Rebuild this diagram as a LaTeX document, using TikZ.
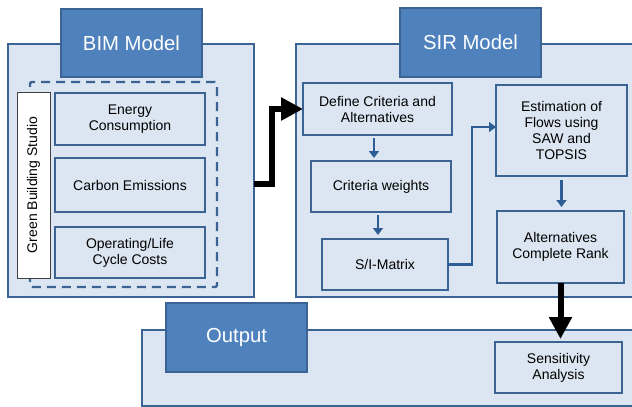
\documentclass[tikz,border=0pt]{standalone}
\usepackage{fontspec}
\setmainfont{Liberation Sans}
\usetikzlibrary{arrows.meta,calc}
\definecolor{panelfill}{HTML}{DCE6F2}
\definecolor{panelline}{HTML}{3B6494}
\definecolor{headfill}{HTML}{4F81BD}
\definecolor{arrowblue}{HTML}{2E5D95}
\begin{document}
\begin{tikzpicture}[x=1pt,y=-1pt,
  panel/.style={draw=panelline,fill=panelfill,line width=2pt,inner sep=0pt,outer sep=0pt},
  header/.style={draw=panelline,fill=headfill,line width=2pt,inner sep=0pt,outer sep=0pt,text=white,font=\fontsize{20.3}{24}\selectfont},
  item/.style={draw=panelline,fill=panelfill,line width=2.4pt,inner sep=0pt,outer sep=0pt,align=center,font=\fontsize{14}{16}\selectfont},
  barrow/.style={draw=arrowblue,line width=2.6pt,-{Triangle[width=10pt,length=7pt]}},
  karrow/.style={draw=black,line width=6pt,-{Triangle[width=22pt,length=22pt]}}
]
\useasboundingbox (0,0) rectangle (632,407);
\fill[white] (0,0) rectangle (632,407);

% BIM panel
\node[panel,minimum width=246pt,minimum height=253pt] (bim) at (131,170.5) {};
\node[header,minimum width=141pt,minimum height=68pt] (bimh) at (131.5,43) {BIM Model};
\node[draw=panelline,dash pattern=on 9pt off 6pt,line width=2.4pt,rounded corners=2pt,minimum width=187pt,minimum height=205pt,inner sep=0pt,outer sep=0pt] (dash) at (123.5,184.5) {};
\node[draw=black!75,fill=white,line width=1pt,minimum width=33pt,minimum height=186pt,inner sep=0pt,outer sep=0pt] (gbs) at (33.5,185) {};
\node[rotate=90,font=\fontsize{14}{16}\selectfont] (gbst) at (gbs.center) {Green Building Studio};
\node[item,minimum width=150pt,minimum height=52pt] (energy) at (130,119) {Energy\\Consumption};
\node[item,minimum width=150pt,minimum height=54pt] (carbon) at (130,185) {Carbon Emissions};
\node[item,minimum width=150pt,minimum height=51pt] (oper) at (130,252.5) {Operating/Life\\Cycle Costs};

% SIR panel
\node[panel,minimum width=344pt,minimum height=253pt] (sir) at (468,170.5) {};
\node[header,minimum width=141pt,minimum height=69pt] (sirh) at (470.5,42.5) {SIR Model};
\node[item,minimum width=149pt,minimum height=52pt] (define) at (377.5,109) {Define Criteria and\\Alternatives};
\node[item,minimum width=140pt,minimum height=51pt] (crit) at (381,186.5) {Criteria weights};
\node[item,minimum width=126pt,minimum height=51pt] (si) at (385,264.5) {S/I-Matrix};
\node[item,minimum width=131pt,minimum height=91pt] (est) at (561.5,130.5) {Estimation of\\Flows using\\SAW and\\TOPSIS};
\node[item,minimum width=127pt,minimum height=72pt] (alt) at (560.5,247) {Alternatives\\Complete Rank};

% Output panel
\node[panel,minimum width=498pt,minimum height=76pt] (out) at (391,368) {};
\node[header,minimum width=141pt,minimum height=69pt] (outh) at (236.5,337.5) {Output};
\node[item,minimum width=127pt,minimum height=51pt] (sens) at (558.5,367.5) {Sensitivity\\Analysis};

% connectors
\draw[karrow] ([yshift=-13.5pt]bim.east) -- ++(18,0) |- (define.west);
\draw[barrow,shorten <=3pt,shorten >=3pt] ([xshift=-3.5pt]define.south) -- ([xshift=-3.5pt]define.south |- crit.north);
\draw[barrow,shorten <=3pt,shorten >=4pt] ([xshift=-3pt]crit.south) -- ([xshift=-3pt]crit.south |- si.north);
\draw[barrow] (si.east) -- ++(24,0) |- ([yshift=3.5pt]est.west);
\draw[barrow,shorten <=4pt,shorten >=4pt] (est.south) -- (est.south |- alt.north);
\draw[karrow,shorten >=3pt] (alt.south) -- (alt.south |- sens.north);
\end{tikzpicture}
\end{document}
